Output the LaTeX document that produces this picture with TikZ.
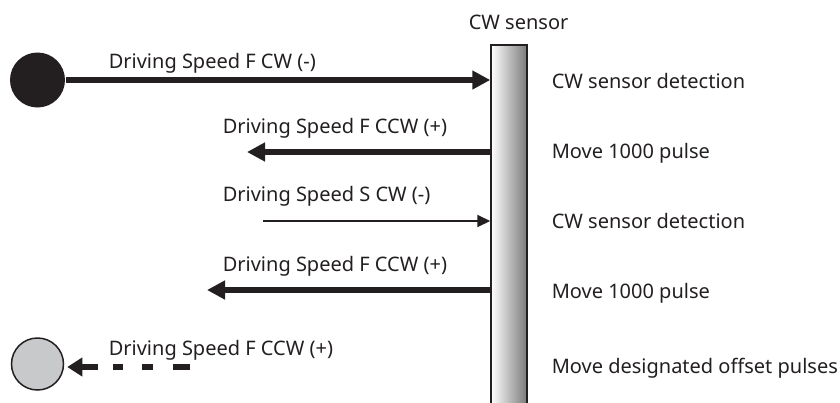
\documentclass[tikz,border=0pt]{standalone}
\usepackage{fontspec}
\setmainfont{Noto Sans}
\usetikzlibrary{arrows.meta,calc}
\usetikzlibrary{positioning}
\definecolor{ink}{HTML}{231F20}
\definecolor{ballgray}{HTML}{C8C9CA}
\tikzstyle{fast}=[line width=2.8pt,-{Triangle[length=9pt,width=9pt]}]
\tikzstyle{slow}=[line width=1pt,-{Triangle[length=6.5pt,width=6pt]}]
\tikzstyle{offset}=[line width=2.8pt,
  dash pattern=on 8.5pt off 10pt on 5.5pt off 9.5pt on 5pt off 7.5pt on 10pt,
  -{Triangle[length=7.5pt,width=9pt]}]
\tikzstyle{txt}=[anchor=base west,inner sep=0pt]

\begin{document}
\begin{tikzpicture}[x=0.5pt,y=-0.5pt,thick,draw=ink,text=ink,
  font=\fontsize{10}{12}\selectfont]
  \useasboundingbox (0,0) rectangle (840,402);

  % sensor bar
  \node[draw=ink,line width=0.75pt,inner sep=0pt,minimum width=18pt,
  minimum height=195pt,left color=white,right color=black!52]
  (sensor) at (509,240) {};
  \node[txt] (sname) at (468,29) {CW sensor};

  % start and end position
  \node[circle,fill=ink,minimum size=27.5pt,inner sep=0pt] (start) at (37.5,80) {};
  \node[circle,draw=ink,line width=0.75pt,fill=ballgray,minimum size=26pt,
  inner sep=0pt] (stop) at (37.5,364) {};

  \coordinate (tip2) at (247,152);
  \coordinate (tail3) at (263,221);
  \coordinate (tip4) at (207,290);
  \coordinate (tail5) at (190,367);

  % moves
  \draw[fast] (start) -- (sensor.west |- start);
  \draw[fast] (sensor.west |- tip2) -- (tip2);
  \draw[slow] (tail3) -- (sensor.west |- tail3);
  \draw[fast] (sensor.west |- tip4) -- (tip4);
  \draw[offset,shorten >=1.5pt] (tail5) -- (tail5 -| stop.east);

  \node[txt] (lbl1) at (108,68) {Driving Speed F CW (-)};
  \node[txt] (lbl2) at (222,133) {Driving Speed F CCW (+)};
  \node[txt] (lbl3) at (222,201) {Driving Speed S CW (-)};
  \node[txt] (lbl4) at (222,271) {Driving Speed F CCW (+)};
  \node[txt] (lbl5) at (108,355) {Driving Speed F CCW (+)};

  % steps
  \node[txt] (step1) at (551,88) {CW sensor detection};
  \node[txt] (step2) at (551,158) {Move 1000 pulse};
  \node[txt] (step3) at (551,228) {CW sensor detection};
  \node[txt] (step4) at (551,298) {Move 1000 pulse};
  \node[txt] (step5) at (551,373) {Move designated offset pulses};

\end{tikzpicture}
\end{document}
